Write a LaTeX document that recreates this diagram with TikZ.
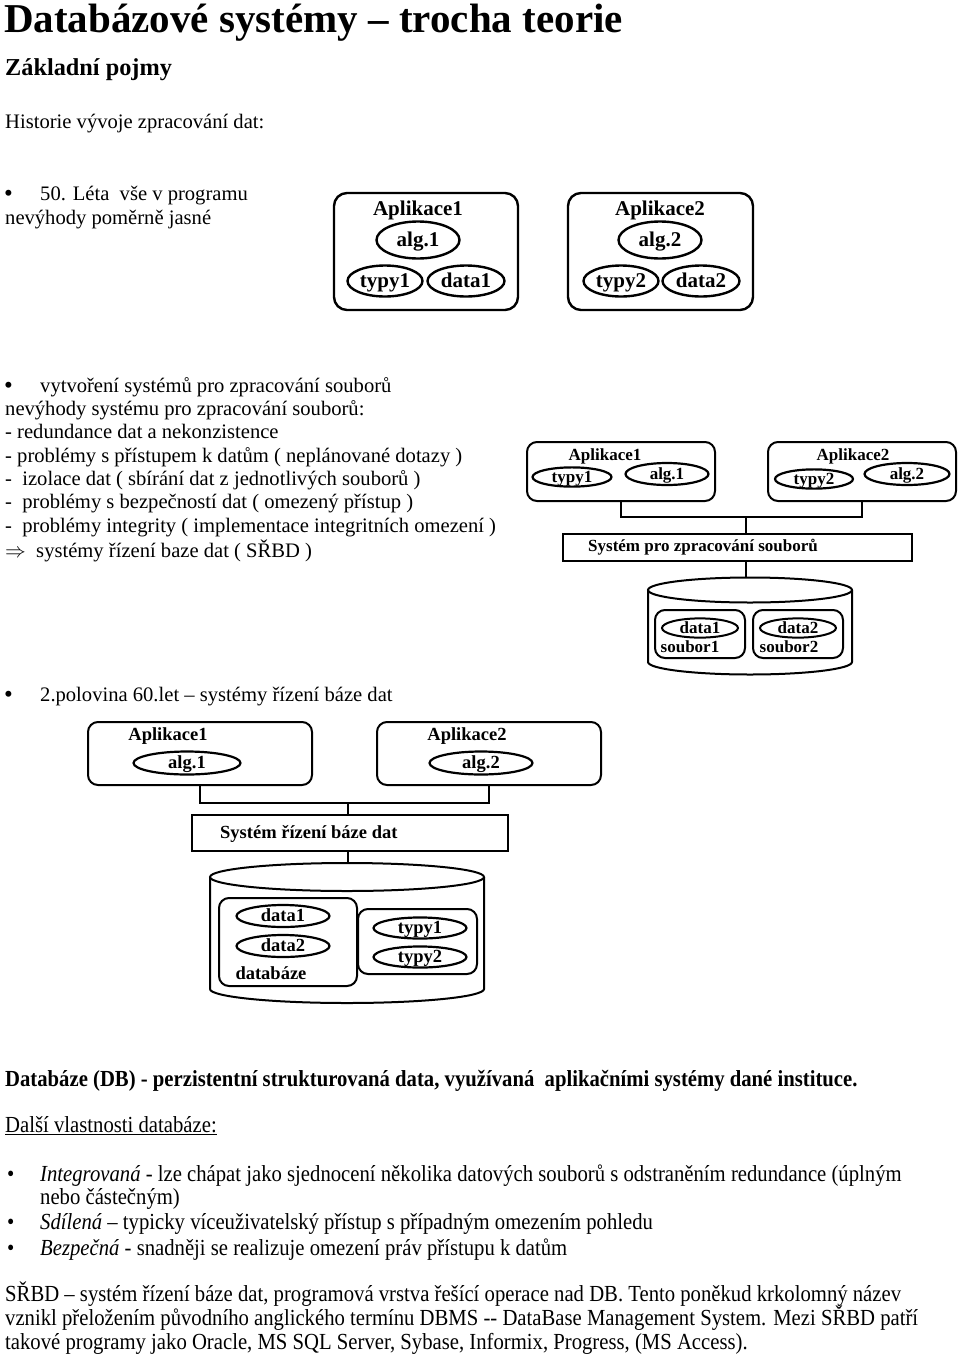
\documentclass[tikz,border=0pt]{standalone}
\usepackage{fontspec}
\setmainfont{Liberation Serif}
\newfontfamily\narrowrm[FakeStretch=0.9]{Liberation Serif}
\usetikzlibrary{shapes.geometric}

\tikzset{
  txt/.style={anchor=base west,inner sep=0pt,font=\fontsize{20.6}{24}\selectfont},
  ntxt/.style={anchor=base west,inner sep=0pt,font=\narrowrm\fontsize{23}{24}\selectfont},
  dot/.style={anchor=base west,inner sep=0pt,font=\fontsize{25}{25}\selectfont},
  bigbox/.style={draw,line width=2.4pt,rounded corners=13pt},
  smallbox/.style={draw,line width=2pt,rounded corners=10pt},
  sysbox/.style={draw,line width=2pt},
  ell/.style={draw,ellipse,line width=2.2pt,inner sep=0pt},
  lbl/.style={inner sep=0pt,text height=11.9pt,text depth=1.7pt,font=\bfseries\fontsize{17}{17}\selectfont},
  biglbl/.style={inner sep=0pt,text height=14.7pt,text depth=2.1pt,font=\bfseries\fontsize{21}{21}\selectfont},
  midlbl/.style={inner sep=0pt,text height=13pt,text depth=1.9pt,font=\bfseries\fontsize{18.5}{18.5}\selectfont},
  wire/.style={line width=2pt}
}

\begin{document}
\begin{tikzpicture}[x=1pt,y=-1pt]
  \useasboundingbox (0,0) rectangle (960,1355);

  % headings
  \node[anchor=base west,inner sep=0pt,font=\bfseries\fontsize{41}{41}\selectfont] (title) at (4,32) {Databázové systémy – trocha teorie};
  \node[anchor=base west,inner sep=0pt,font=\bfseries\fontsize{24.3}{25}\selectfont] (pojmy) at (5,75) {Základní pojmy};
  \node[txt] (hist) at (5,128) {Historie vývoje zpracování dat:};

  % 50. leta
  \node[dot] (b1) at (4,201) {\textbullet};
  \node[txt] (l200) at (40,200) {50. Léta\ \ vše v programu};
  \node[txt] (l224) at (5,224) {nevýhody poměrně jasné};

  % first picture: two applications
  \node[bigbox,minimum width=184pt,minimum height=117pt] (a1) at (426,251.5) {};
  \node[biglbl] (a1t) at (418,209) {Aplikace1};
  \node[ell,biglbl,line width=2.4pt,minimum width=83pt,minimum height=37pt] (a1alg) at (418,240) {alg.1};
  \node[ell,biglbl,line width=2.4pt,minimum width=75pt,minimum height=31pt] (a1typ) at (385,281) {typy1};
  \node[ell,biglbl,line width=2.4pt,minimum width=77pt,minimum height=31pt] (a1dat) at (466,281) {data1};
  \node[bigbox,minimum width=185pt,minimum height=117pt] (a2) at (660.5,251.5) {};
  \node[biglbl] (a2t) at (660,209) {Aplikace2};
  \node[ell,biglbl,line width=2.4pt,minimum width=83pt,minimum height=37pt] (a2alg) at (660,240) {alg.2};
  \node[ell,biglbl,line width=2.4pt,minimum width=75pt,minimum height=31pt] (a2typ) at (621,281) {typy2};
  \node[ell,biglbl,line width=2.4pt,minimum width=77pt,minimum height=31pt] (a2dat) at (701,281) {data2};

  % souborovy system
  \node[dot] (b2) at (4,393) {\textbullet};
  \node[txt] (l392) at (40,392) {vytvoření systémů pro zpracování souborů};
  \foreach \y/\t in {415/{nevýhody systému pro zpracování souborů:},
                     438/{- redundance dat a nekonzistence},
                     462/{- problémy s přístupem k datům ( neplánované dotazy )},
                     485/{-\ \ izolace dat ( sbírání dat z jednotlivých souborů )},
                     508/{-\ \ problémy s bezpečností dat ( omezený přístup )},
                     532/{-\ \ problémy integrity ( implementace integritních omezení )},
                     557/{$\Rightarrow$\ \ systémy řízení baze dat ( SŘBD )}}
    \node[txt] (l\y) at (5,\y) {\t};

  % second picture
  \node[smallbox,minimum width=188pt,minimum height=59pt] (m1) at (621,471.5) {};
  \node[lbl] (m1t) at (605,455) {Aplikace1};
  \node[ell,lbl,minimum width=79pt,minimum height=19pt] (m1typ) at (572,477) {typy1};
  \node[ell,lbl,minimum width=83pt,minimum height=22pt] (m1alg) at (667,474) {alg.1};
  \node[smallbox,minimum width=188pt,minimum height=59pt] (m2) at (862,471.5) {};
  \node[lbl] (m2t) at (853,455) {Aplikace2};
  \node[ell,lbl,minimum width=78pt,minimum height=19pt] (m2typ) at (814,479) {typy2};
  \node[ell,lbl,minimum width=85pt,minimum height=22pt] (m2alg) at (907,474) {alg.2};
  \node[sysbox,minimum width=349pt,minimum height=27pt] (msys) at (737.5,547.5) {};
  \node[lbl,anchor=west] (msyst) at (588,546) {Systém pro zpracování souborů};
  \coordinate (mjoin) at (746,517);
  \coordinate (mdb) at (746,578);
  \draw[wire] (m1.south) |- (mjoin) -| (m2.south);
  \draw[wire] (mjoin) -- (mjoin |- msys.north);
  \draw[wire] (mdb |- msys.south) -- (mdb);
  % cylinder of files
  \draw[line width=2pt] (750,590) ellipse (102pt and 12.5pt);
  \draw[line width=2pt] (648,590) -- (648,662) arc[start angle=180,end angle=360,x radius=102pt,y radius=12.5pt] -- (852,590);
  \node[smallbox,minimum width=90pt,minimum height=48pt] (sb1) at (700,634) {};
  \node[ell,lbl,line width=2pt,minimum width=76pt,minimum height=18pt] (sb1d) at (700,628) {data1};
  \node[lbl] (sb1t) at (690,647) {soubor1};
  \node[smallbox,minimum width=90pt,minimum height=48pt] (sb2) at (798,634) {};
  \node[ell,lbl,line width=2pt,minimum width=76pt,minimum height=18pt] (sb2d) at (798,628) {data2};
  \node[lbl] (sb2t) at (789,647) {soubor2};

  % 60. leta
  \node[dot] (b3) at (4,702) {\textbullet};
  \node[txt] (l701) at (40,701) {2.polovina 60.let – systémy řízení báze dat};

  % third picture
  \node[smallbox,minimum width=224pt,minimum height=63pt] (d1) at (200,753.5) {};
  \node[midlbl] (d1t) at (168,735) {Aplikace1};
  \node[ell,midlbl,minimum width=107pt,minimum height=23pt] (d1alg) at (187,763) {alg.1};
  \node[smallbox,minimum width=224pt,minimum height=63pt] (d2) at (489,753.5) {};
  \node[midlbl] (d2t) at (467,735) {Aplikace2};
  \node[ell,midlbl,minimum width=103pt,minimum height=23pt] (d2alg) at (481,763) {alg.2};
  \node[sysbox,minimum width=316pt,minimum height=36pt] (dsys) at (350,833) {};
  \node[midlbl,anchor=west] (dsyst) at (220,833) {Systém řízení báze dat};
  \coordinate (djoin) at (348,803);
  \coordinate (ddb) at (348,863);
  \draw[wire] (d1.south) |- (djoin) -| (d2.south);
  \draw[wire] (djoin) -- (djoin |- dsys.north);
  \draw[wire] (ddb |- dsys.south) -- (ddb);
  % cylinder of the database
  \draw[line width=2pt] (347,877) ellipse (137pt and 14pt);
  \draw[line width=2pt] (210,877) -- (210,989) arc[start angle=180,end angle=360,x radius=137pt,y radius=14pt] -- (484,877);
  \node[smallbox,minimum width=138pt,minimum height=88pt] (dbx) at (288,942) {};
  \node[ell,midlbl,minimum width=93pt,minimum height=22pt] (dbd1) at (283,916) {data1};
  \node[ell,midlbl,minimum width=93pt,minimum height=22pt] (dbd2) at (283,946) {data2};
  \node[midlbl] (dbt) at (271,974) {databáze};
  \node[smallbox,minimum width=119pt,minimum height=65pt] (tbx) at (417.5,941.5) {};
  \node[ell,midlbl,minimum width=93pt,minimum height=21pt] (tb1) at (420,928) {typy1};
  \node[ell,midlbl,minimum width=93pt,minimum height=21pt] (tb2) at (420,957) {typy2};

  % definice
  \node[ntxt,font=\narrowrm\bfseries\fontsize{23}{24}\selectfont] (def) at (5,1086) {Databáze (DB) - perzistentní strukturovaná data, využívaná\ \ aplikačními systémy dané instituce.};
  \node[ntxt] (dalsi) at (5,1132) {\underline{Další vlastnosti databáze:}};
  \foreach \y in {1181,1229,1255}
    \node[ntxt] (bb\y) at (7,\y) {\textbullet};
  \node[ntxt] (p1) at (40,1181) {\textit{Integrovaná} - lze chápat jako sjednocení několika datových souborů s odstraněním redundance (úplným};
  \node[ntxt] (p1b) at (40,1204) {nebo částečným)};
  \node[ntxt] (p2) at (40,1229) {\textit{Sdílená} – typicky víceuživatelský přístup s případným omezením pohledu};
  \node[ntxt] (p3) at (40,1255) {\textit{Bezpečná} - snadněji se realizuje omezení práv přístupu k datům};
  \node[ntxt] (s1) at (5,1301) {SŘBD – systém řízení báze dat, programová vrstva řešící operace nad DB. Tento poněkud krkolomný název};
  \node[ntxt] (s2) at (5,1325) {vznikl přeložením původního anglického termínu DBMS -- DataBase Management System. Mezi SŘBD patří};
  \node[ntxt] (s3) at (5,1349) {takové programy jako Oracle, MS SQL Server, Sybase, Informix, Progress, (MS Access).};
\end{tikzpicture}
\end{document}
